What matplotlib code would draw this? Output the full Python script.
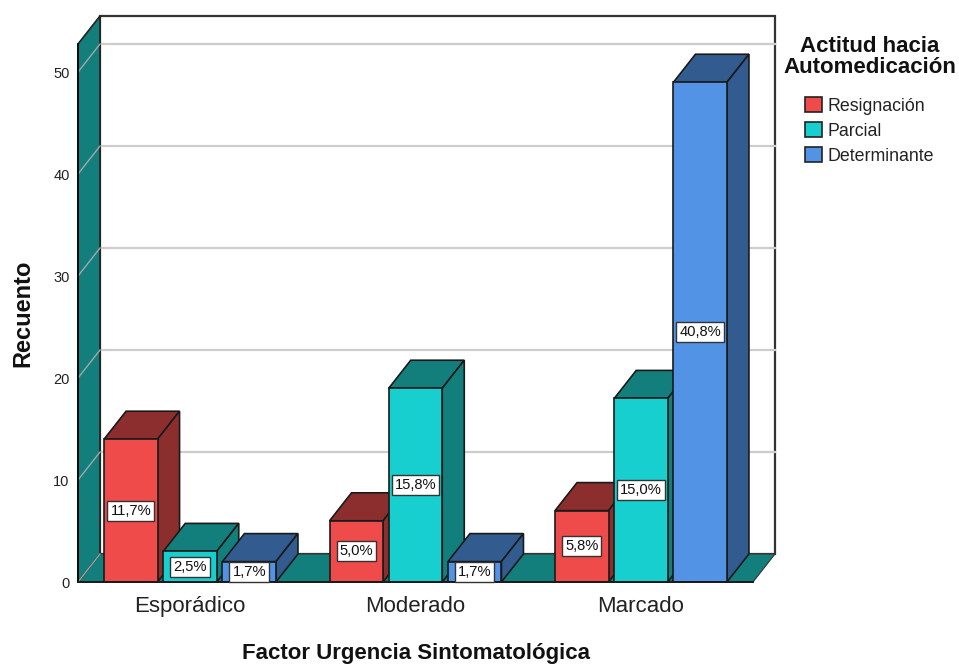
#! /usr/bin/env python3
import numpy as np
from matplotlib import pyplot as plt
from matplotlib.patches import Polygon, Patch

plt.rcParams['font.family'] = ['Liberation Sans', 'DejaVu Sans']

categories = ['Esporádico', 'Moderado', 'Marcado']
series_names = ['Resignación', 'Parcial', 'Determinante']
resignacion = [14, 6, 7]
parcial = [3, 19, 18]
determinante = [2, 2, 49]
pct_resignacion = ['11,7%', '5,0%', '5,8%']
pct_parcial = ['2,5%', '15,8%', '15,0%']
pct_determinante = ['1,7%', '1,7%', '40,8%']
y_ticks = [0, 10, 20, 30, 40, 50]

front_colors = ['#F04B4B', '#17CFCF', '#5293E5']
dark_colors = ['#8C2E2E', '#137F7D', '#325C8F']
wall_color = '#137F7D'
line_color = '#1A1A1A'

W, H = 959, 664
# front plane of the box, in pixels
left, right, bottom, top = 78, 753, 582, 44

fig = plt.figure(figsize=(W / 100, H / 100), dpi=100)
ax = fig.add_axes([left / W, 1 - bottom / H, (right - left) / W, (bottom - top) / H])
ax.set_xlim(-0.4967, 2.4967)
ax.set_ylim(0, 52.75)

# depth of the fake 3d, in data units
dx = 22 / 225.5
dy = 28 / 10.2
x0, x1 = ax.get_xlim()
y0, y1 = ax.get_ylim()

# walls and floor
ax.add_patch(Polygon([(x0 + dx, y0 + dy), (x1 + dx, y0 + dy), (x1 + dx, y1 + dy), (x0 + dx, y1 + dy)],
                     fc='white', ec='#333333', lw=1.6, clip_on=False, zorder=1))
ax.add_patch(Polygon([(x0, y0), (x0 + dx, y0 + dy), (x1 + dx, y0 + dy), (x1, y0)],
                     fc=wall_color, ec='#333333', lw=0.8, clip_on=False, zorder=2))
ax.add_patch(Polygon([(x0, y0), (x0 + dx, y0 + dy), (x0 + dx, y1 + dy), (x0, y1)],
                     fc=wall_color, ec='#222222', lw=1.2, clip_on=False, zorder=2))

# gridlines, back wall then left wall
for t in y_ticks[1:]:
    ax.plot([x0 + dx, x1 + dx], [t + dy, t + dy], color='#CCCCCC', lw=1.6, clip_on=False, zorder=1.5)
for t in y_ticks:
    ax.plot([x0, x0 + dx], [t, t + dy], color='#A0A8A8', lw=1, clip_on=False, zorder=2.5)

bar_w = 53.5 / 225.5
stride = 59.2 / 225.5
all_values = [resignacion, parcial, determinante]
all_pcts = [pct_resignacion, pct_parcial, pct_determinante]
xs = np.arange(len(categories))

z = 3
for c in xs:
    for s in range(3):
        v = all_values[s][c]
        xc = c + (s - 1) * stride
        xl, xr = xc - bar_w / 2, xc + bar_w / 2
        # top and side first, front over them
        ax.add_patch(Polygon([(xl, v), (xl + dx, v + dy), (xr + dx, v + dy), (xr, v)],
                             fc=dark_colors[s], ec=line_color, lw=1.2, clip_on=False, zorder=z))
        ax.add_patch(Polygon([(xr, 0), (xr + dx, dy), (xr + dx, v + dy), (xr, v)],
                             fc=dark_colors[s], ec=line_color, lw=1.2, clip_on=False, zorder=z))
        ax.bar(xc, v, width=bar_w, color=front_colors[s], edgecolor=line_color, lw=1.2,
               clip_on=False, zorder=z + 0.5)
        z += 1

# labels go on top of all the bars
for c in xs:
    for s in range(3):
        v = all_values[s][c]
        xc = c + (s - 1) * stride
        ax.text(xc, v / 2, all_pcts[s][c], ha='center', va='center', fontsize=10.6, color='#111111',
                zorder=50, bbox=dict(boxstyle='square,pad=0.2', fc='white', ec='#333333', lw=1))

for name in ['top', 'right']:
    ax.spines[name].set_visible(False)
ax.spines['left'].set_linewidth(1.2)
ax.spines['bottom'].set_linewidth(1.4)
ax.spines['bottom'].set_color(line_color)
ax.spines['bottom'].set_zorder(40)
ax.patch.set_visible(False)

ax.set_xticks(xs)
ax.set_xticklabels(categories, fontsize=16, color='#222222')
ax.set_yticks(y_ticks)
ax.tick_params(axis='y', length=0, pad=6, labelsize=10.5, labelcolor='#222222')
ax.tick_params(axis='x', length=0, pad=10)

ax.set_xlabel('Factor Urgencia Sintomatológica', fontsize=16, fontweight='bold', color='#111111')
ax.xaxis.set_label_coords((415.5 - left) / (right - left), -(654 - bottom) / (bottom - top), transform=ax.transAxes)
ax.xaxis.label.set_va('center')
ax.set_ylabel('Recuento', fontsize=17, fontweight='bold', color='#111111')
ax.yaxis.set_label_coords(-(left - 23) / (right - left), (bottom - 313) / (bottom - top), transform=ax.transAxes)
ax.yaxis.label.set_va('center')

# title as separate text, the legend's own title sits too close to the entries
fig.text(870 / W, 1 - 57 / H, 'Actitud hacia\nAutomedicación', ha='center', va='center', fontsize=16,
         fontweight='bold', color='#111111', linespacing=0.98)
handles = [Patch(fc=front_colors[i], ec='#222222', lw=1.2, label=series_names[i]) for i in range(3)]
leg = fig.legend(handles=handles, loc='upper left', bbox_to_anchor=(805 / W, 1 - 97 / H), frameon=False,
                 fontsize=12.8, handlelength=0.96, handleheight=0.96, handletextpad=0.3, labelspacing=0.4,
                 borderpad=0, borderaxespad=0)
for t in leg.get_texts():
    t.set_color('#222222')

fig.savefig('out.png', dpi=100)
